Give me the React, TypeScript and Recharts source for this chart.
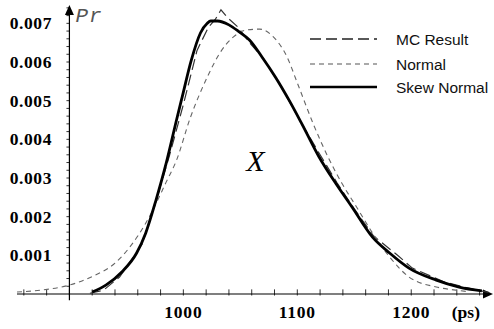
import {
  LineChart,
  Line,
  XAxis,
  YAxis,
  Legend,
  ReferenceLine,
  ReferenceDot,
} from 'recharts'

// values (ps, probability)
const mcX = [918, 930, 944, 955, 964, 976, 988, 1000, 1012, 1022, 1028, 1033, 1039, 1048, 1058, 1070, 1085, 1104, 1120, 1135, 1150, 1167, 1188, 1201, 1230, 1258, 1268]
const mcY = [0.00002, 0.0001, 0.00044, 0.0009, 0.0013, 0.0024, 0.0036, 0.0049, 0.0063, 0.0069, 0.0071, 0.00735, 0.00714, 0.0069, 0.0065, 0.0061, 0.0054, 0.0044, 0.0036, 0.00287, 0.0022, 0.0015, 0.001, 0.00067, 0.0003, 0.0001, 0.00004]

const normalX = [854, 875, 900, 920, 940, 960, 972, 985, 994, 1006, 1021, 1032, 1044, 1056, 1067, 1079, 1091, 1100, 1114, 1127, 1139, 1152, 1166, 1181, 1198, 1222, 1239, 1250]
const normalY = [0.00005, 0.0001, 0.00023, 0.00045, 0.0008, 0.0015, 0.0021, 0.0029, 0.00346, 0.00455, 0.00561, 0.00623, 0.00665, 0.00683, 0.00685, 0.00665, 0.00613, 0.00546, 0.0044, 0.00354, 0.00287, 0.00225, 0.00158, 0.00096, 0.00044, 0.00018, 0.0001, 0.00006]

const skewX = [920, 932, 946, 959, 967, 976, 985, 994, 999, 1007, 1015, 1021, 1024, 1030, 1040, 1049, 1058, 1069, 1081, 1093, 1104, 1119, 1134, 1148, 1166, 1181, 1198, 1222, 1242, 1262]
const skewY = [0.00005, 0.00023, 0.00057, 0.00106, 0.00158, 0.00243, 0.00339, 0.0045, 0.0051, 0.00605, 0.00675, 0.007, 0.00706, 0.00706, 0.00696, 0.00678, 0.00657, 0.00613, 0.0056, 0.005, 0.0044, 0.00355, 0.00285, 0.00225, 0.00147, 0.00106, 0.00067, 0.00036, 0.00018, 0.00008]

const xTicks = [1000, 1100, 1200]
const yTicks = [0.001, 0.002, 0.003, 0.004, 0.005, 0.006, 0.007]
const xMinor = Array.from({ length: 21 }, (_, i) => 860 + i * 20)
const yMinor = Array.from({ length: 37 }, (_, i) => (i + 1) * 0.0002)

const toPoints = (xs: number[], ys: number[]) => xs.map((x, i) => ({ x, y: ys[i] }))
const mcData = toPoints(mcX, mcY)
const normalData = toPoints(normalX, normalY)
const skewData = toPoints(skewX, skewY)

const serif = '"Liberation Serif", "Times New Roman", serif'
const sans = '"Liberation Sans", Arial, sans-serif'

const legendLook: Record<string, { dash?: string; color: string; w: number }> = {
  'MC Result': { dash: '11 5', color: '#222', w: 1.3 },
  Normal: { dash: '5 4', color: '#555', w: 1.2 },
  'Skew Normal': { color: '#000', w: 2.6 },
}

function renderLegend(props: any) {
  const rows = [11, 36, 59]
  return (
    <svg width={185} height={72} style={{ display: 'block' }}>
      {(props.payload || []).map((p: any, i: number) => {
        const look = legendLook[p.value] || { color: '#000', w: 1 }
        return (
          <g key={p.value}>
            <line x1={5} x2={72} y1={rows[i]} y2={rows[i]} stroke={look.color}
              strokeWidth={look.w} strokeDasharray={look.dash} />
            <text x={91} y={rows[i]} dominantBaseline="central" fontFamily={sans}
              fontSize={15.5} fill="#111">{p.value}</text>
          </g>
        )
      })}
    </svg>
  )
}

function XTick({ x, payload }: any) {
  return (
    <text x={x} y={318} textAnchor="middle" fontFamily={serif} fontWeight="bold"
      fontSize={17.5} letterSpacing={0.8} fill="#000">{payload.value}</text>
  )
}

function YTick({ y, payload }: any) {
  return (
    <text x={52} y={y} textAnchor="end" dominantBaseline="central" fontFamily={serif}
      fontWeight="bold" fontSize={17.5} letterSpacing={0.6} fill="#000">
      {Number(payload.value).toFixed(3)}
    </text>
  )
}

function xArrow(p: any) {
  const { x1, y1, x2 } = p
  return (
    <g>
      <line x1={x1} y1={y1} x2={x2 - 4} y2={y1} stroke="#000" strokeWidth={1.2} />
      <polygon points={`${x2 + 2},${y1} ${x2 - 8},${y1 - 4.5} ${x2 - 8},${y1 + 4.5}`} fill="#000" />
    </g>
  )
}

function yArrow(p: any) {
  const { x1, y1, y2 } = p
  const top = Math.min(y1, y2)
  const bottom = Math.max(y1, y2)
  return (
    <g>
      <line x1={x1} y1={bottom} x2={x1} y2={top + 4} stroke="#000" strokeWidth={1.2} />
      <polygon points={`${x1},${top + 1} ${x1 - 4.5},${top + 11} ${x1 + 4.5},${top + 11}`} fill="#000" />
    </g>
  )
}

function TextTag({ viewBox, text, dx, dy, style }: any) {
  return (
    <text x={viewBox.x + dx} y={viewBox.y + dy} {...style}>{text}</text>
  )
}

export default function App() {
  return (
    <div style={{ position: 'absolute', left: 0, top: 0, background: '#fff' }}>
      <LineChart width={494} height={329} margin={{ top: 4, right: 3, left: 16, bottom: 0 }}>
        <XAxis dataKey="x" type="number" domain={[854, 1270]} ticks={xTicks}
          allowDataOverflow axisLine={false} tickLine={false} tick={<XTick />} height={35}
          label={{ value: '(ps)', position: 'insideBottomRight', offset: 11, fontFamily: serif,
            fontWeight: 'bold', fontSize: 17.5, fill: '#000' }} />
        <YAxis type="number" domain={[0, 0.0075]} ticks={yTicks} allowDataOverflow interval={0}
          axisLine={false} tickLine={false} width={1} tick={<YTick />} />

        {xMinor.map((v) => (
          <ReferenceLine key={'xm' + v} ifOverflow="visible" stroke="#333" strokeWidth={1}
            segment={[{ x: v, y: -0.00004 }, { x: v, y: 0.00012 }]} />
        ))}
        {yMinor.map((v) => (
          <ReferenceLine key={'ym' + v} ifOverflow="visible" stroke="#333" strokeWidth={1}
            segment={[{ x: 897.4, y: v }, { x: 900, y: v }]} />
        ))}
        <ReferenceLine ifOverflow="visible" segment={[{ x: 854, y: 0 }, { x: 1270, y: 0 }]} shape={xArrow} />
        <ReferenceLine ifOverflow="visible" segment={[{ x: 900, y: -0.00016 }, { x: 900, y: 0.0075 }]} shape={yArrow} />

        <ReferenceDot x={900} y={0.0072} r={0} ifOverflow="visible"
          label={<TextTag text="Pr" dx={6} dy={6} style={{ fontFamily: '"Liberation Mono", "Courier New", monospace',
            fontStyle: 'italic', fontSize: 21, letterSpacing: 1, fill: '#555' }} />} />
        <ReferenceDot x={1063} y={0.00347} r={0} ifOverflow="visible"
          label={<TextTag text="X" dx={-9} dy={11} style={{ fontFamily: serif, fontStyle: 'italic',
            fontSize: 30, fill: '#000' }} />} />

        <Legend verticalAlign="middle" align="center" layout="vertical" content={renderLegend}
          wrapperStyle={{ position: 'absolute', top: 28, left: 305, width: 185 }} />

        <Line data={mcData} dataKey="y" name="MC Result" type="linear" stroke="#333"
          strokeWidth={1.2} strokeDasharray="11 5" dot={false} isAnimationActive={false} />
        <Line data={normalData} dataKey="y" name="Normal" type="monotone" stroke="#666"
          strokeWidth={1.1} strokeDasharray="5 4" dot={false} isAnimationActive={false} />
        <Line data={skewData} dataKey="y" name="Skew Normal" type="monotone" stroke="#000"
          strokeWidth={2.8} dot={false} isAnimationActive={false} />
      </LineChart>
    </div>
  )
}
